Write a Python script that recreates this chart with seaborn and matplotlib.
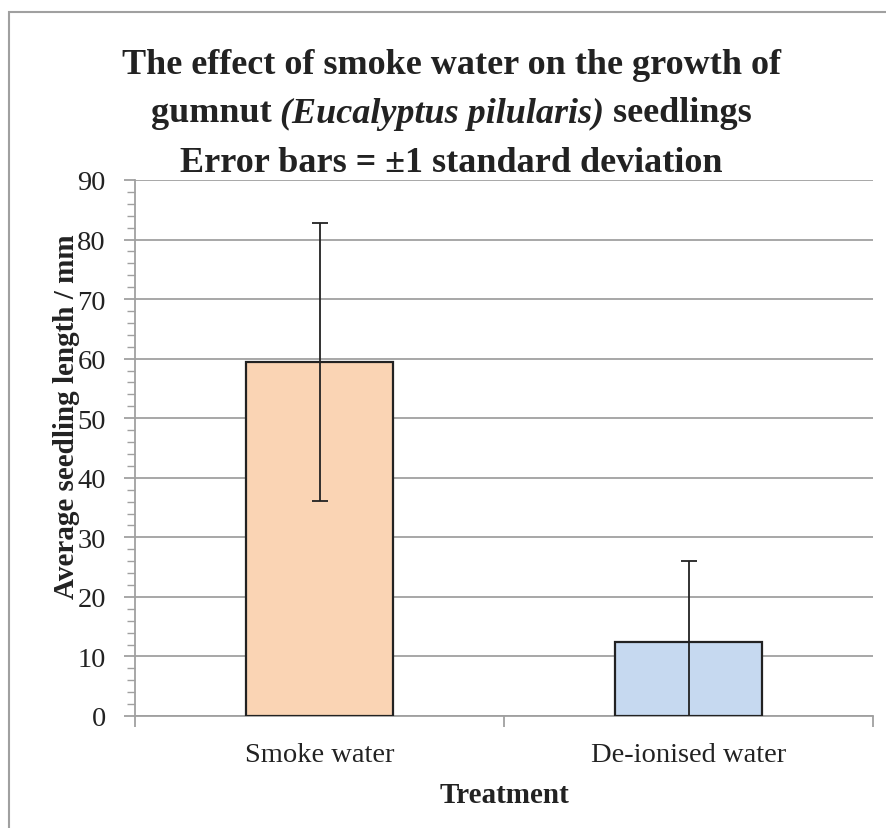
import numpy as np
import pandas as pd
import matplotlib
matplotlib.use("Agg")
import matplotlib.pyplot as plt
import seaborn as sns
from matplotlib.patches import Rectangle
from matplotlib.ticker import MultipleLocator

# data
treatments = ["Smoke water", "De-ionised water"]
mean_length = [59.4, 12.4]
std_length = [23.3, 13.6]
bar_colours = ["#fad4b4", "#c6d9f0"]

df = pd.DataFrame({"treatment": treatments, "length": mean_length, "sd": std_length})

sns.set_style("white")
plt.rcParams["font.family"] = ["Liberation Serif", "DejaVu Serif"]

fig = plt.figure(figsize=(8.87, 8.29), dpi=100)
ax = fig.add_axes([135 / 887, 1 - 717 / 829, 738 / 887, 536 / 829])

sns.barplot(data=df, x="treatment", y="length", hue="treatment", palette=bar_colours,
            saturation=1, width=0.4, edgecolor="#222222", linewidth=1.6,
            legend=False, ax=ax, zorder=3)

ax.errorbar(np.arange(len(df)), df["length"], yerr=df["sd"], fmt="none",
            ecolor="#222222", elinewidth=1.3, capsize=5.5, capthick=1.3, zorder=4)

ax.set_ylim(0, 90)
ax.set_xlim(-0.5, 1.5)
ax.yaxis.set_major_locator(MultipleLocator(10))
ax.yaxis.set_minor_locator(MultipleLocator(2))
ax.grid(axis="y", color="#a0a0a0", linewidth=1.3, zorder=0)
ax.set_axisbelow(True)

for s in ["top", "right"]:
    ax.spines[s].set_visible(False)
for s in ["left", "bottom"]:
    ax.spines[s].set_color("#a0a0a0")
    ax.spines[s].set_linewidth(1.3)

ax.tick_params(axis="y", which="major", length=8, width=1.3, color="#a0a0a0",
               labelsize=20.5, labelcolor="#222222", pad=13, left=True)
ax.tick_params(axis="y", which="minor", length=6, width=1.0, color="#a0a0a0", left=True)
ax.set_xticks([0, 1])
ax.set_xticklabels(treatments)
ax.set_xticks([-0.5, 0.5, 1.5], minor=True)
ax.tick_params(axis="x", which="major", length=0, labelsize=20.5, labelcolor="#222222", pad=19)
ax.tick_params(axis="x", which="minor", length=8, width=1.3, color="#a0a0a0", bottom=True)

ax.set_xlabel("Treatment", fontsize=21, fontweight="bold", color="#222222", labelpad=10)
ax.set_ylabel("Average seedling length / mm", fontsize=21, fontweight="bold", color="#222222")
ax.yaxis.set_label_coords(-0.075, 0.56)

# title, middle line has the species name in italics
tsize = 26
fig.text(0.5 + 8 / 887, 1 - 65 / 829, "The effect of smoke water on the growth of",
         ha="center", va="center", fontsize=tsize, fontweight="bold", color="#222222")
fig.text(0.5 + 8 / 887, 1 - 163 / 829, "Error bars = ±1 standard deviation",
         ha="center", va="center", fontsize=tsize, fontweight="bold", color="#222222")

pieces = [("gumnut ", "normal"), ("(Eucalyptus pilularis)", "italic"), (" seedlings", "normal")]
renderer = fig.canvas.get_renderer()
texts = []
for s, st in pieces:
    t = fig.text(0, 1 - 114 / 829, s, ha="left", va="center", fontsize=tsize,
                 fontweight="bold", fontstyle=st, color="#222222")
    texts.append(t)
widths = [t.get_window_extent(renderer).width for t in texts]
x0 = (887 / 2 + 8 - sum(widths) / 2)
for t, w in zip(texts, widths):
    t.set_x(x0 / 887)
    x0 += w

fig.patches.append(Rectangle((9 / 887, -0.05), 1.0, 1 - 13 / 829 + 0.05,
                             transform=fig.transFigure, fill=False,
                             edgecolor="#a0a0a0", linewidth=1.5))

fig.savefig("out.png", dpi=100)
